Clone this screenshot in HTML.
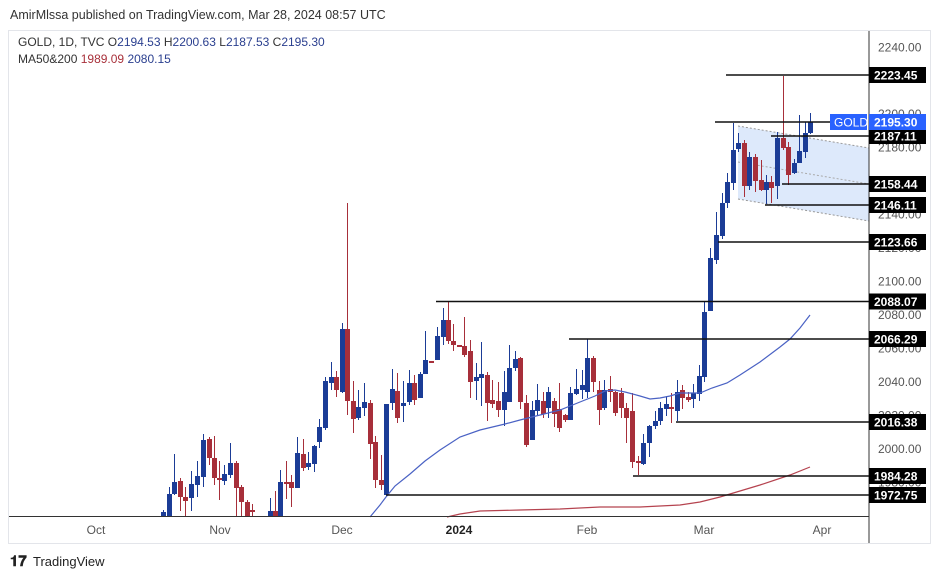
<!DOCTYPE html>
<html><head><meta charset="utf-8"><style>
html,body{margin:0;padding:0;background:#fff;width:939px;height:579px;overflow:hidden;font-family:"Liberation Sans",sans-serif;}
svg{position:absolute;left:0;top:0}
</style></head><body>
<svg id="s" width="939" height="579" xmlns="http://www.w3.org/2000/svg">
<text x="10" y="19" font-size="12.5" fill="#333">AmirMlssa published on TradingView.com, Mar 28, 2024 08:57 UTC</text>
<rect x="8.5" y="30.5" width="922" height="513" fill="#fff" stroke="#e3e5ea"/>
<g id="g"></g>
<text x="18" y="46" font-size="12" fill="#333">GOLD, 1D, TVC  O<tspan fill="#2a3f8f">2194.53</tspan>  H<tspan fill="#2a3f8f">2200.63</tspan>  L<tspan fill="#2a3f8f">2187.53</tspan>  C<tspan fill="#2a3f8f">2195.30</tspan></text>
<text x="18" y="63" font-size="12" fill="#333">MA50&amp;200  <tspan fill="#a8303a">1989.09</tspan>  <tspan fill="#2a3f8f">2080.15</tspan></text>
<g font-size="12" fill="#555" text-anchor="middle">
<text x="96" y="534">Oct</text><text x="220" y="534">Nov</text><text x="342" y="534">Dec</text>
<text x="459" y="534" font-weight="bold" fill="#222">2024</text><text x="587" y="534">Feb</text><text x="704" y="534">Mar</text><text x="822" y="534">Apr</text>
</g>
<text x="10" y="566" font-size="15" font-weight="bold" fill="#222">𝟏𝟕</text>
<text x="33" y="566" font-size="13" fill="#222">TradingView</text>
</svg>
<script>
var g=document.getElementById('g'),h='';
function Y(p){return 75+(2223.45-p)*1.6735;}
h+='<polygon points="738,126 869,148 869,221 738,199" fill="#dde9fb"/>';
h+='<line x1="738" y1="126" x2="869" y2="148" stroke="#999" stroke-dasharray="2,2"/>';
h+='<line x1="738" y1="199" x2="869" y2="221" stroke="#999" stroke-dasharray="2,2"/>';
h+='<line x1="738" y1="162" x2="869" y2="184" stroke="#aaa" stroke-dasharray="2,2"/>';
var C=[[163.5,516,512,510,516],[169,516,494,487,516],[174,494,482,454,495],[180,481,497,478,511],[185,497,501,487,516],[191,498,484,471,511],[197,485,476,461,497],[203,477,440,434,487],[209,439,458,437,465],[214,458,478,436,485],[219,478,480,461,500],[224,481,474,465,485],[230,475,463,443,478],[236,463,488,461,516],[241,487,502,485,516],[247,502,516,500,516],[252,510,512,504,516],[270,516,511,498,516],[275,511,516,491,516],[280,516,482,470,516],[286,482,483,461,499],[291,482,488,475,507],[297,488,453,437,488],[303,454,468,439,471],[308,467,463,452,470],[314,464,446,445,472],[319,442,427,419,448],[325,428,381,377,430],[331,383,377,362,390],[336,377,390,371,397],[342,392,329,323,393],[347,329,401,203,415],[353,401,419,381,433],[358,418,407,390,420],[364,408,402,383,416],[370,403,444,400,459],[375,442,480,436,488],[381,480,485,455,490],[386,495,404,404,495],[392,403,389,369,410],[397,391,418,373,423],[403,406,403,381,422],[409,402,383,370,405],[414,383,400,375,405],[420,398,374,372,398],[425,374,360,331,374],[431,361,362,361,362],[437,360,336,327,360],[443,337,320,308,345],[448,320,341,301,344],[453,341,345,324,351],[459,345,346,345,346],[464,346,355,317,357],[470,351,382,340,398],[476,381,377,363,400],[481,378,374,342,406],[487,375,403,372,421],[492,400,404,380,408],[498,401,410,382,417],[504,410,392,371,426],[509,402,368,345,402],[515,368,359,351,371],[520,358,402,357,409],[526,403,445,395,447],[532,440,410,401,440],[537,411,400,384,415],[543,401,414,392,418],[548,408,392,387,418],[554,401,414,398,427],[559,409,428,383,432],[565,415,420,414,422],[570,420,393,387,420],[576,394,389,369,395],[582,390,385,370,399],[587,392,358,339,398],[593,358,382,356,392],[599,390,410,381,425],[604,408,390,380,410],[610,389,392,376,402],[615,392,413,391,416],[621,393,408,388,418],[626,408,418,403,443],[632,411,462,393,468],[638,461,463,456,475],[643,464,443,434,465],[649,443,426,425,457],[655,426,421,411,429],[660,421,408,402,425],[666,409,404,396,416],[671,407,409,393,423],[677,411,392,380,421],[682,390,398,385,409],[688,397,400,392,402],[693,399,393,384,408],[699,394,376,365,401],[704,377,312,302,382],[710,311,258,248,311],[716,260,235,212,264],[722,236,203,193,239],[727,203,182,173,208],[733,183,150,123,190],[738,149,143,133,152],[744,143,186,140,197],[749,186,157,152,190],[755,157,181,154,192],[761,180,190,160,191],[766,190,182,175,204],[771,182,188,176,203],[777,186,138,132,199],[783,138,148,76,150],[788,147,175,142,185],[794,173,163,159,174],[799,163,151,115,163],[805,152,133,122,158],[810,133,122,113,134]];
function seg(pts,col){return '<polyline fill="none" stroke="'+col+'" stroke-width="1.2" points="'+pts.map(function(p){return p.join(',')}).join(' ')+'"/>';}
C.forEach(function(c){var up=c[2]<c[1],col=up?'#1b3c96':'#a72f3a';var x=Math.floor(c[0]);var t=Math.round(Math.min(c[1],c[2])),b=Math.round(Math.max(c[1],c[2]));if(b-t<2){b=t+2;}
h+='<rect x="'+x+'" y="'+c[3]+'" width="1" height="'+(Math.min(c[4],516)-c[3])+'" fill="'+col+'"/>';
h+='<rect x="'+(x-2)+'" y="'+t+'" width="5" height="'+(Math.min(b,516)-t)+'" fill="'+col+'"/>';});
h+=seg([[370,517],[380,505],[386,497],[395,486],[410,474],[425,461],[440,450],[460,437],[480,430],[505,424],[520,420],[540,415],[560,410],[580,402],[595,396],[605,391],[615,390],[625,392],[640,396],[650,399],[660,398],[670,396],[680,393],[700,393],[712,388],[727,383],[740,375],[760,362],[780,347],[790,339],[800,328],[810,315]],'#4a62c4');
h+=seg([[447,517],[460,514],[480,511],[520,510],[560,509],[600,507],[640,507],[680,505],[700,502],[720,497],[740,491],[760,485],[790,475],[810,467]],'#b5434f');
var L=[[75,726,'2223.45'],[136,771,'2187.11'],[184,782,'2158.44'],[205,765,'2146.11'],[242,718,'2123.66'],[301.5,436,'2088.07'],[339,569,'2066.29'],[422,676,'2016.38'],[476,633,'1984.28'],[495,386,'1972.75']];
h+='<line x1="715" y1="122" x2="830" y2="122" stroke="#111" stroke-width="1.5"/>';
h+='<line x1="869" y1="31" x2="869" y2="543" stroke="#333"/>';
h+='<line x1="9" y1="516.5" x2="869" y2="516.5" stroke="#333"/>';
[2240,2200,2180,2140,2120,2100,2080,2060,2040,2020,2000,1980].forEach(function(p){h+='<text x="878" y="'+(Y(p)+4)+'" font-size="12" fill="#555">'+p.toFixed(2)+'</text>';});
L.forEach(function(l){h+='<line x1="'+l[1]+'" y1="'+l[0]+'" x2="869" y2="'+l[0]+'" stroke="#111" stroke-width="1.5"/>';
h+='<rect x="869" y="'+(l[0]-8)+'" width="57" height="16" fill="#000"/><text x="874" y="'+(l[0]+4.5)+'" font-size="12" font-weight="bold" fill="#fff">'+l[2]+'</text>';});
h+='<rect x="830" y="114" width="37" height="16" fill="#2962ff"/><text x="834" y="126.5" font-size="12" fill="#fff">GOLD</text>';
h+='<rect x="869" y="114" width="57" height="16" fill="#2962ff"/><text x="874" y="126.5" font-size="12" font-weight="bold" fill="#fff">2195.30</text>';
g.innerHTML=h;
</script>
</body></html>
